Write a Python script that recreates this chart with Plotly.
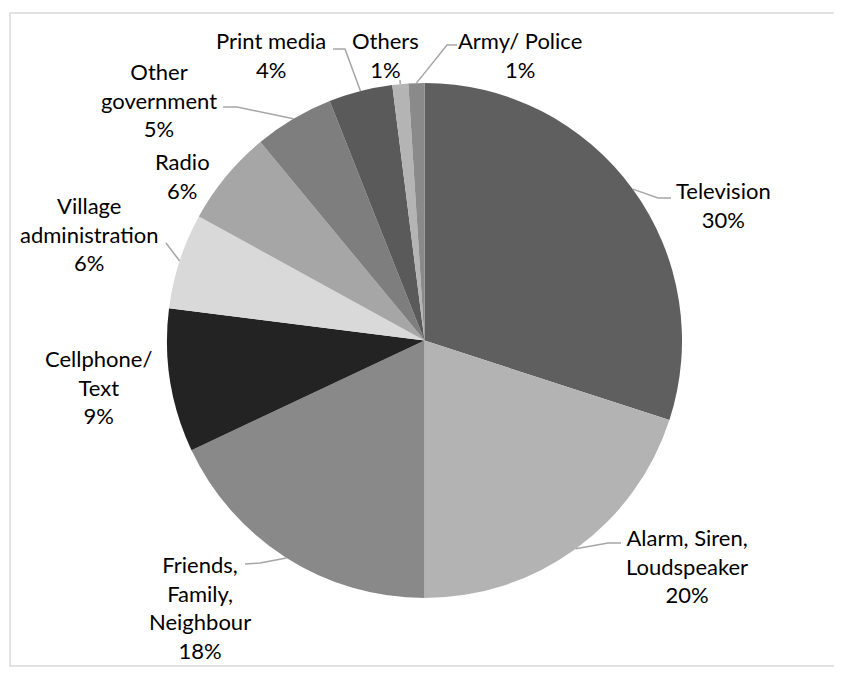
import math
import plotly.graph_objects as go

# ---- data ----
categories = ["Television", "Alarm, Siren, Loudspeaker", "Friends, Family, Neighbour",
              "Cellphone/ Text", "Village administration", "Radio", "Other government",
              "Print media", "Others", "Army/ Police"]
values = [30, 20, 18, 9, 6, 6, 5, 4, 1, 1]

# ---- styles / layout ----
colors = ["#5f5f5f", "#b3b3b3", "#898989", "#232323", "#d9d9d9", "#a6a6a6", "#7e7e7e",
          "#5a5a5a", "#b4b4b4", "#8a8a8a"]
# how each label text is broken into lines
label_lines = [["Television"], ["Alarm, Siren,", "Loudspeaker"], ["Friends,", "Family,", "Neighbour"],
               ["Cellphone/", "Text"], ["Village", "administration"], ["Radio"], ["Other", "government"],
               ["Print media"], ["Others"], ["Army/ Police"]]
# label block centres (page pixels)
label_centres = [(723, 205), (687, 566), (200, 607), (98, 387), (89, 234), (182, 176),
                 (159, 100), (271, 55), (385, 55), (520, 55)]
# leader line bends: (elbow, end) in page pixels, or None
leader_bends = [((658, 198), (671, 198)), ((608, 543), (621, 543)), ((260, 563), (245, 564)),
                None, (None, (166, 243)), None, ((237, 107), (223, 107)),
                ((345, 49), (333, 49)), (None, (400, 80)), ((447, 45), (457, 45))]

W, H = 842, 675
OFF = 8  # page body margin of the browser
cx, cy, R = 424.5, 340.5, 257.5
FONT = "Lato"


def px(x):
    return (x - OFF) / W


def py(y):
    return 1 - (y - OFF) / H


fig = go.Figure(go.Pie(
    labels=categories, values=values, sort=False, direction="clockwise", rotation=0,
    marker=dict(colors=colors, line=dict(width=0)),
    textinfo="none", hoverinfo="none", showlegend=False,
    domain=dict(x=[px(cx - R), px(cx + R)], y=[py(cy + R), py(cy - R)]),
))

total = sum(values)
cum = 0
for i, v in enumerate(values):
    mid = (cum + v / 2) / total * 2 * math.pi
    cum += v
    pct = round(v / total * 100)
    text = "<br>".join(label_lines[i] + [f"{pct}%"])
    lx, ly = label_centres[i]
    fig.add_annotation(x=px(lx), y=py(ly), xref="paper", yref="paper", text=text,
                       showarrow=False, xanchor="center", yanchor="middle", align="center",
                       font=dict(family=FONT, size=22, color="#000000"))
    bend = leader_bends[i]
    if bend is None:
        continue
    ex, ey = cx + R * math.sin(mid), cy - R * math.cos(mid)
    pts = [(ex, ey)] + [p for p in bend if p is not None]
    path = "M " + " L ".join(f"{px(x)},{py(y)}" for x, y in pts)
    fig.add_shape(type="path", xref="paper", yref="paper", path=path,
                  line=dict(color="#a6a6a6", width=1.5))

fig.add_shape(type="rect", xref="paper", yref="paper", x0=px(10), x1=px(838),
              y0=py(666), y1=py(13), line=dict(color="#d9d9d9", width=1.5))
fig.update_layout(width=W, height=H, margin=dict(l=0, r=0, t=0, b=0),
                  paper_bgcolor="white", plot_bgcolor="white")
fig.write_html("out.html")
